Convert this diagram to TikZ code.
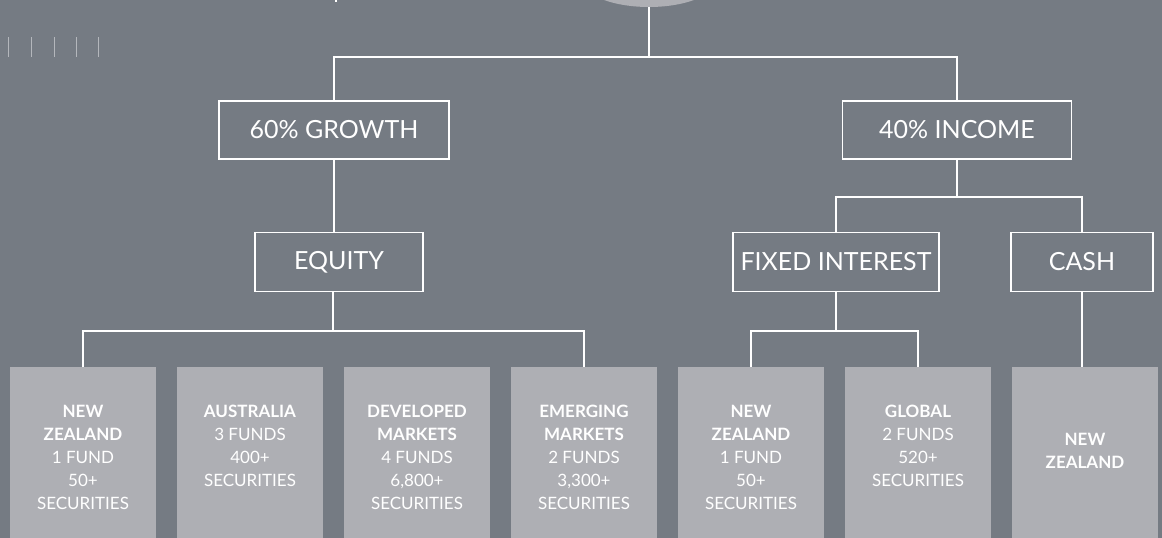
\documentclass[tikz,border=0pt]{standalone}
\usepackage{fontspec}
\setmainfont{Lato}
\usetikzlibrary{shapes.geometric}
\definecolor{slate}{HTML}{757B83}
\definecolor{paleslate}{HTML}{AEAFB4}
\definecolor{tickgray}{HTML}{B4B7BC}
\begin{document}
\begin{tikzpicture}[x=1pt,y=-1pt,
  wire/.style={draw=white,line width=1.4pt},
  headbox/.style={draw=white,line width=1.4pt,minimum height=58pt,inner sep=0pt,text=white,font=\fontsize{25}{30}\selectfont},
  fund/.style={fill=paleslate,anchor=north,minimum width=146pt,minimum height=180pt,inner sep=0pt},
  fundtext/.style={anchor=north,align=center,inner sep=0pt,text=white,font=\fontsize{17}{23}\selectfont}]
\useasboundingbox (0,0) rectangle (1162,538);
\fill[slate] (0,0) rectangle (1162,538);
\foreach \x in {8,31,54,76,98}
  \draw[tickgray,line width=0.9pt] (\x,37) -- (\x,57);
\draw[wire] (336,-4) -- (336,1.5);
\node[ellipse,fill=paleslate,inner sep=0pt,minimum width=140pt,minimum height=60pt] (portfolio) at (649,-23) {};
\node[headbox,minimum width=230pt] (growth) at (334,130) {60\% GROWTH};
\node[headbox,minimum width=229pt] (income) at (957,130) {40\% INCOME};
\node[headbox,minimum width=168pt,minimum height=59pt] (equity) at (339,262) {EQUITY};
\node[headbox,minimum width=206pt,minimum height=59pt] (fixed) at (836,262) {FIXED INTEREST};
\node[headbox,minimum width=142pt,minimum height=59pt] (cash) at (1082,262) {CASH};
\foreach \i/\x in {1/83,2/250,3/417,4/584,5/751,6/918,7/1085}
  \node[fund] (b\i) at (\x,367) {};
\node[fundtext] (t1) at ([yshift=-38pt]b1.north) {\textbf{NEW}\\\textbf{ZEALAND}\\1 FUND\\50+\\SECURITIES};
\node[fundtext] (t2) at ([yshift=-38pt]b2.north) {\textbf{AUSTRALIA}\\3 FUNDS\\400+\\SECURITIES};
\node[fundtext] (t3) at ([yshift=-38pt]b3.north) {\textbf{DEVELOPED}\\\textbf{MARKETS}\\4 FUNDS\\6,800+\\SECURITIES};
\node[fundtext] (t4) at ([yshift=-38pt]b4.north) {\textbf{EMERGING}\\\textbf{MARKETS}\\2 FUNDS\\3,300+\\SECURITIES};
\node[fundtext] (t5) at ([yshift=-38pt]b5.north) {\textbf{NEW}\\\textbf{ZEALAND}\\1 FUND\\50+\\SECURITIES};
\node[fundtext] (t6) at ([yshift=-38pt]b6.north) {\textbf{GLOBAL}\\2 FUNDS\\520+\\SECURITIES};
\node[fundtext,anchor=center] (t7) at ([yshift=-84pt]b7.north) {\textbf{NEW}\\\textbf{ZEALAND}};
\coordinate (split) at (649,57);
\coordinate (isplit) at (957,197);
\coordinate (esplit) at (333,331);
\coordinate (fsplit) at (836,331);
\draw[wire] (portfolio) -- (split);
\draw[wire] (growth) |- (split) -| (income);
\draw[wire] (growth) -- (growth |- equity.north);
\draw[wire] (income) -- (isplit);
\draw[wire] (fixed) |- (isplit) -| (cash);
\draw[wire] (esplit |- equity.south) -- (esplit);
\draw[wire] (b1) |- (esplit) -| (b4);
\draw[wire] (fixed) -- (fsplit);
\draw[wire] (b5) |- (fsplit) -| (b6);
\draw[wire] (cash) -- (cash |- b7.north);
\end{tikzpicture}
\end{document}
